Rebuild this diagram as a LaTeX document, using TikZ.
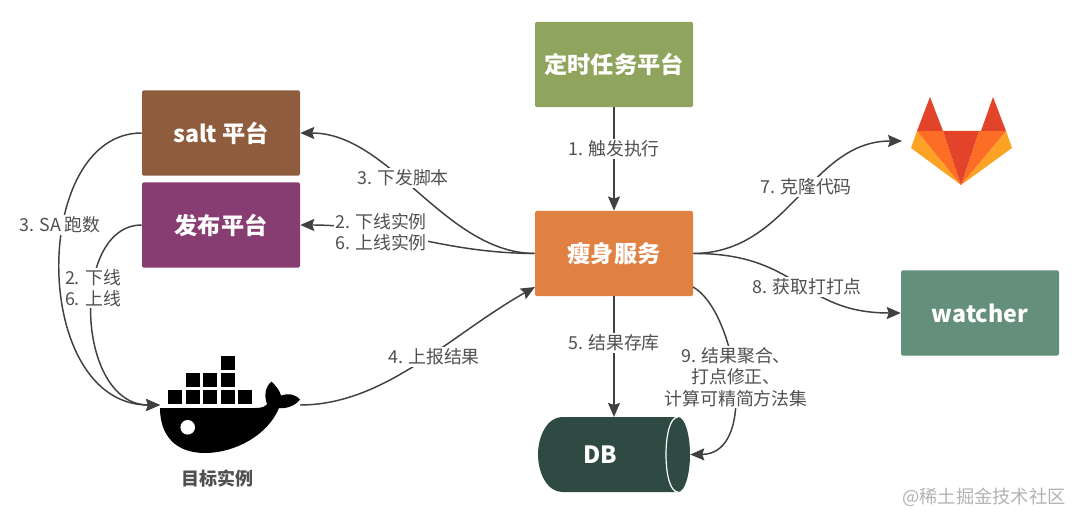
\documentclass[tikz,border=0pt]{standalone}
\usepackage{fontspec}
\setmainfont{Noto Sans CJK SC}
\usetikzlibrary{arrows.meta}
\definecolor{linec}{HTML}{404040}
\definecolor{textc}{HTML}{505050}
\definecolor{cgreen}{HTML}{8FA45C}
\definecolor{cbrown}{HTML}{8F5C3E}
\definecolor{cpurple}{HTML}{873D72}
\definecolor{corange}{HTML}{E08142}
\definecolor{cteal}{HTML}{648F7A}
\definecolor{cdb}{HTML}{2F4A42}
\definecolor{glred}{HTML}{E24329}
\definecolor{glorange}{HTML}{FC6D26}
\definecolor{glyellow}{HTML}{FCA326}
\tikzset{
  box/.style={rectangle,rounded corners=1.2pt,minimum width=118.5pt,minimum height=64pt,inner sep=0pt,text=white,font=\fontsize{17.4}{20}\selectfont\bfseries},
  conn/.style={draw=linec,line width=1.1pt,-{Stealth[length=10.5pt,width=9pt,inset=1.5pt]}},
  lab/.style={fill=white,inner sep=1pt,text=textc,align=center,font=\fontsize{13.4}{16.2}\selectfont},
}
\begin{document}
\begin{tikzpicture}[x=0.75pt,y=-0.75pt]
\useasboundingbox (0,0) rectangle (1080,523);
% boxes
\node[box,fill=cgreen] (timer) at (614,64.5) {定时任务平台};
\node[box,fill=cbrown] (salt) at (221,133) {salt 平台};
\node[box,fill=cpurple] (pub) at (221,225) {发布平台};
\node[box,fill=corange] (slim) at (614,253.5) {瘦身服务};
\node[box,fill=cteal] (watcher) at (980,313) {watcher};
% DB
\node[minimum width=114pt,minimum height=56pt,inner sep=0pt] (db) at (614,454.5) {};
\fill[cdb] (678,417) -- (562,417) .. controls (548,417) and (538,435) .. (538,454.5) .. controls (538,474) and (548,492) .. (562,492) -- (678,492) .. controls (685,492) and (690,474) .. (690,454.5) .. controls (690,435) and (685,417) .. (678,417) -- cycle;
\draw[white,line width=0.9pt] (678,417) .. controls (670,417) and (666,435) .. (666,454.5) .. controls (666,474) and (670,492) .. (678,492);
\node[text=white,inner sep=0pt,font=\fontsize{17.8}{20}\selectfont\bfseries] (dbtext) at (600,455) {DB};
% docker
\fill[black] (160,408) -- (255,408) .. controls (261,408) and (265,407) .. (267,404) .. controls (264,396) and (265,387) .. (271.5,381.5) .. controls (276,386) and (280,391) .. (281,395.5) .. controls (288,393) and (295,394) .. (300,399.5) .. controls (295,406) and (286,409) .. (279,408) .. controls (268,435) and (235,453) .. (205,453) .. controls (175,453) and (160,435) .. (160,408) -- cycle;
\fill[white] (187.7,427.3) circle[radius=7.3];
\foreach \xx in {168,185.5,203,220.5,238} \fill[black] (\xx,390) rectangle +(14,14);
\foreach \xx in {185.5,203,220.5} \fill[black] (\xx,373) rectangle +(14,14);
\fill[black] (220.5,356) rectangle +(14,14);
\coordinate (dockin) at (160,405);
\coordinate (dockout) at (300,405);
\node[inner sep=0pt,text=textc,font=\fontsize{13.5}{16}\selectfont\bfseries] (dockname) at (217,479) {目标实例};
% gitlab
\fill[glyellow] (917,131) -- (911,148) -- (961,185) -- cycle;
\fill[glyellow] (1006,131) -- (1012,148) -- (961,185) -- cycle;
\fill[glorange] (917,131) -- (943,131) -- (961,185) -- cycle;
\fill[glorange] (1006,131) -- (979,131) -- (961,185) -- cycle;
\fill[glred] (943,131) -- (979,131) -- (961,185) -- cycle;
\fill[glred] (917,131) -- (930,97) -- (943,131) -- cycle;
\fill[glred] (981,131) -- (993,97) -- (1006,131) -- cycle;
\coordinate (gitin) at (902,141);
% extra connector ends
\coordinate (slimin) at (535,287);
\coordinate (slimout) at (693,287);
% connectors
\draw[conn] (timer.south) -- (slim.north);
\draw[conn] (slim.west) .. controls (445,253) and (390,133) .. (salt.east);
\draw[conn] (slim.west) .. controls (440,253) and (390,225) .. (pub.east);
\draw[conn] (salt.west) .. controls (30,133) and (30,405) .. (dockin);
\draw[conn] (pub.west) .. controls (70,225) and (75,405) .. (dockin);
\draw[conn] (dockout) .. controls (385,405) and (450,335) .. (slimin);
\draw[conn] (slim.south) -- (db.north);
\draw[conn] (slim.east) .. controls (790,253) and (810,141) .. (gitin);
\draw[conn] (slim.east) .. controls (800,253) and (800,313) .. (watcher.west);
\draw[conn] (slimout) .. controls (735,310) and (760,454) .. (db.east);
% labels
\node[lab] (l1) at (614,149) {1. 触发执行};
\node[lab] (l3) at (403,178) {3. 下发脚本};
\node[lab] (l26) at (381,232) {2. 下线实例\\6. 上线实例};
\node[lab] (l3sa) at (60,225) {3. SA 跑数};
\node[lab] (l26b) at (93,288) {2. 下线\\6. 上线};
\node[lab] (l4) at (434,357) {4. 上报结果};
\node[lab] (l5) at (614,343) {5. 结果存库};
\node[lab] (l7) at (806,187) {7. 克隆代码};
\node[lab] (l8) at (807,287) {8. 获取打打点};
\node[lab] (l9) at (736,377) {9. 结果聚合、\\打点修正、\\计算可精简方法集};
\node[inner sep=0pt,text=black!30,font=\fontsize{13.7}{16}\selectfont] (wm) at (984,497) {@稀土掘金技术社区};
\end{tikzpicture}
\end{document}
